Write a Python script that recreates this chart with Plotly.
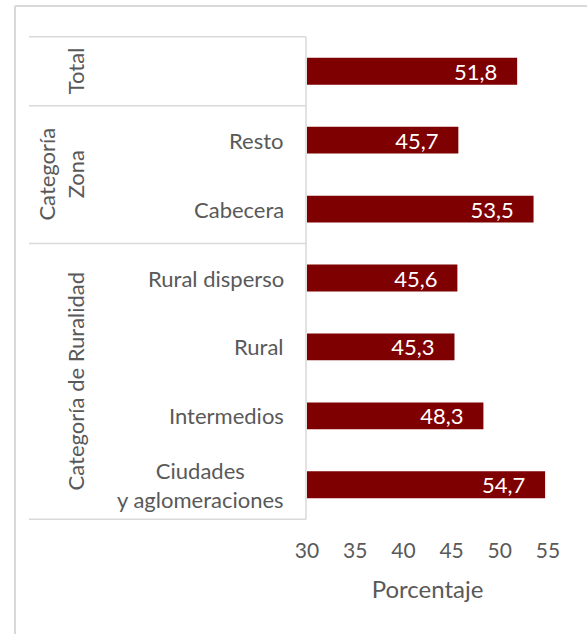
import plotly.graph_objects as go

# Data
categories = ["Total", "Resto", "Cabecera", "Rural disperso", "Rural",
              "Intermedios", "Ciudades y aglomeraciones"]
category_labels = ["", "Resto", "Cabecera", "Rural disperso", "Rural",
                   "Intermedios", "Ciudades<br>y aglomeraciones"]
values = [51.8, 45.7, 53.5, 45.6, 45.3, 48.3, 54.7]
group_labels = ["Total", "Categoría<br>Zona", "Categoría de Ruralidad"]
# first and last category index covered by each group
group_spans = [(0, 0), (1, 2), (3, 6)]
x_ticks = [30, 35, 40, 45, 50, 55]

# Page geometry (pixels)
W, H = 587, 634
L, R, T, B = 307, 39, 36, 114
PW = W - L - R
PH = H - T - B

FONT = "Lato"
GRAY = "#595959"
LINE = "#d9d9d9"
BAR = "#7f0000"


def px_x(px):
    return (px - L) / PW


def px_y(py):
    return (H - B - py) / PH


fig = go.Figure(go.Bar(
    x=values,
    y=categories,
    orientation="h",
    marker=dict(color=BAR, line=dict(width=0)),
    texttemplate="%{x:.1f}\u00a0\u00a0\u00a0",
    textposition="inside",
    insidetextanchor="end",
    constraintext="none",
    textfont=dict(color="white", size=22, family=FONT),
    hoverinfo="skip",
))

shapes = []
# outer frame (top and left edges)
shapes.append(dict(type="line", xref="paper", yref="paper",
                   x0=px_x(15), x1=px_x(W + 5), y0=px_y(6), y1=px_y(6),
                   line=dict(color=LINE, width=2)))
shapes.append(dict(type="line", xref="paper", yref="paper",
                   x0=px_x(15), x1=px_x(15), y0=px_y(6), y1=px_y(H + 5),
                   line=dict(color=LINE, width=2)))
# group separators of the category table
n = len(categories)
boundaries = [-0.5] + [span[1] + 0.5 for span in group_spans]
for yb in boundaries:
    shapes.append(dict(type="line", xref="paper", yref="y",
                       x0=px_x(29), x1=px_x(306), y0=yb, y1=yb,
                       line=dict(color=LINE, width=1.5)))
shapes.append(dict(type="line", xref="paper", yref="y",
                   x0=px_x(306), x1=px_x(306), y0=-0.5, y1=n - 0.5,
                   line=dict(color=LINE, width=1.5)))

annotations = []
for cat, lab in zip(categories, category_labels):
    if lab:
        annotations.append(dict(x=px_x(286), y=cat, xref="paper", yref="y",
                                text=lab, showarrow=False, xanchor="right",
                                align="center",
                                font=dict(size=22, color=GRAY, family=FONT)))
for lab, (a, b) in zip(group_labels, group_spans):
    xc = 75 if "<br>" not in lab else 61
    annotations.append(dict(x=px_x(xc), y=(a + b) / 2, xref="paper", yref="y",
                            text=lab, showarrow=False, textangle=-90,
                            align="center", xanchor="center", yanchor="middle",
                            font=dict(size=22, color=GRAY, family=FONT)))

fig.update_layout(
    width=W, height=H,
    margin=dict(l=L, r=R, t=T, b=B),
    paper_bgcolor="white", plot_bgcolor="white",
    separators=",.",
    bargap=0.61,
    showlegend=False,
    font=dict(family=FONT, color=GRAY),
    xaxis=dict(range=[30, 55], tickvals=x_ticks, showgrid=False, zeroline=False,
               showline=False, ticks="", tickfont=dict(size=21, color=GRAY),
               ticklabelstandoff=16,
               title=dict(text="Porcentaje", font=dict(size=24, color=GRAY), standoff=20)),
    yaxis=dict(categoryorder="array", categoryarray=categories, autorange="reversed",
               showticklabels=False, showgrid=False, zeroline=False, showline=False,
               ticks=""),
    shapes=shapes,
    annotations=annotations,
)

fig.write_html("out.html")
